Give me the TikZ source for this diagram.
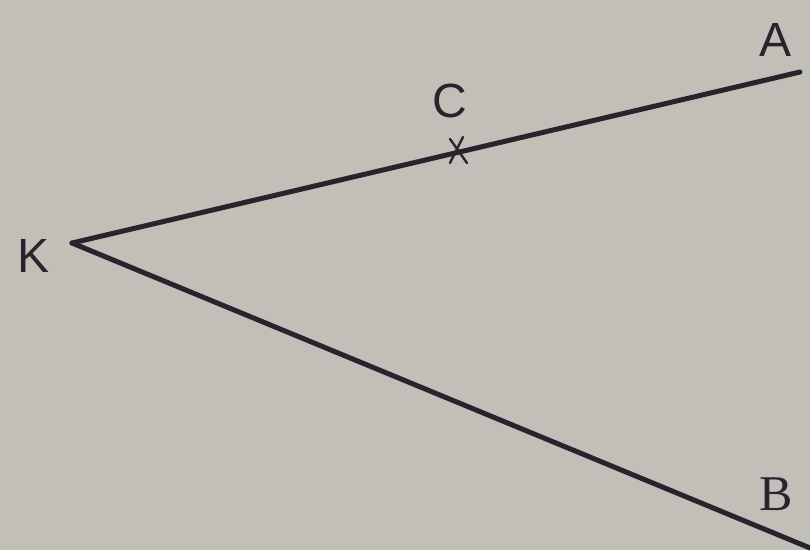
\documentclass[tikz,border=0pt]{standalone}
\usepackage{fontspec}
\setmainfont{Liberation Sans}
\newfontfamily\serifB{Liberation Serif}
\definecolor{paper}{RGB}{194,191,185}
\definecolor{ink}{RGB}{40,36,46}
\begin{document}
\begin{tikzpicture}[x=1pt,y=-1pt,
  ray/.style={draw=ink,line width=5pt,line cap=round},
  lbl/.style={text=ink,font=\fontsize{48}{52}\selectfont,inner sep=0pt},
  tick/.style={draw=ink,line width=2.4pt,line cap=round}]
\fill[paper] (0,0) rectangle (810,550);
\useasboundingbox (0,0) rectangle (810,550);
\coordinate (K) at (72,243);
\coordinate (A) at (800,72);
\coordinate (B) at (810,548);
\coordinate (C) at (457,150);
\draw[ray] (K) -- (A);
\draw[ray] (K) -- (B);
\draw[tick] (450,139) -- (467,163);
\draw[tick] (463,137) -- (450,163);
\node[lbl] (lK) at (34,256) {K};
\node[lbl] (lC) at (450,101) {C};
\node[lbl] (lA) at (775,40) {A};
\node[lbl,font=\fontsize{50}{54}\selectfont\serifB] (lB) at (776,494) {B};
\end{tikzpicture}
\end{document}
